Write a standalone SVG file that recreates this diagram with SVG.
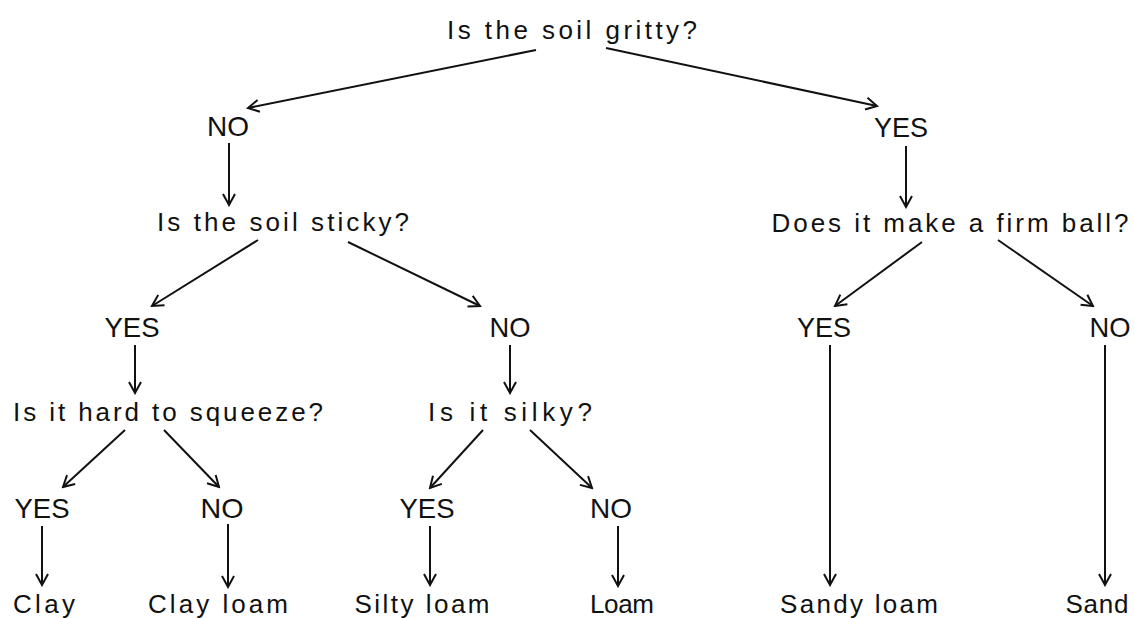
<svg xmlns="http://www.w3.org/2000/svg" width="1134" height="618" viewBox="0 0 1134 618">
<style>
.q{font-family:"Liberation Sans","DejaVu Sans",sans-serif;font-size:26px;fill:#111;text-anchor:middle}
.a{font-family:"Liberation Sans","DejaVu Sans",sans-serif;font-size:28px;fill:#111;text-anchor:middle}
.l{font-family:"Liberation Sans","DejaVu Sans",sans-serif;font-size:26px;fill:#111;text-anchor:middle}
.c line{stroke:#111;stroke-width:2;marker-end:url(#ah)}
</style>
<defs>
<marker id="ah" markerUnits="userSpaceOnUse" viewBox="-12 -8 14 16" refX="0" refY="0" markerWidth="14" markerHeight="16" orient="auto">
<path d="M-11,-6 L0,0 L-11,6" fill="none" stroke="#111" stroke-width="2"/>
</marker>
</defs>
<rect width="1134" height="618" fill="#fff"/>
<g id="connectors" class="c">
<line x1="536" y1="50" x2="248" y2="108"/>
<line x1="606" y1="48" x2="877" y2="106"/>
<line x1="229" y1="143" x2="229" y2="205"/>
<line x1="906" y1="146" x2="906" y2="207"/>
<line x1="258" y1="240" x2="152" y2="306"/>
<line x1="348" y1="242" x2="480" y2="306"/>
<line x1="922" y1="242" x2="835" y2="306"/>
<line x1="998" y1="240" x2="1093" y2="306"/>
<line x1="135" y1="345" x2="135" y2="393"/>
<line x1="510" y1="345" x2="510" y2="393"/>
<line x1="830" y1="345" x2="830" y2="585"/>
<line x1="1105" y1="345" x2="1105" y2="585"/>
<line x1="125" y1="430" x2="63" y2="487"/>
<line x1="164" y1="430" x2="219" y2="487"/>
<line x1="483" y1="430" x2="430" y2="488"/>
<line x1="530" y1="430" x2="592" y2="488"/>
<line x1="42" y1="526" x2="42" y2="585"/>
<line x1="228" y1="524" x2="228" y2="587"/>
<line x1="430" y1="526" x2="430" y2="585"/>
<line x1="618" y1="526" x2="618" y2="586"/>
</g>
<g id="q-gritty"><text class="q" x="572" y="39" textLength="250" lengthAdjust="spacing">Is the soil gritty?</text></g>
<g id="a-no1"><text class="a" x="228" y="136" textLength="42" lengthAdjust="spacingAndGlyphs">NO</text></g>
<g id="a-yes1"><text class="a" x="901" y="137" textLength="54" lengthAdjust="spacingAndGlyphs">YES</text></g>
<g id="q-sticky"><text class="q" x="283" y="231" textLength="252" lengthAdjust="spacing">Is the soil sticky?</text></g>
<g id="q-ball"><text class="q" x="950" y="232" textLength="357" lengthAdjust="spacing">Does it make a firm ball?</text></g>
<g id="a-yes2"><text class="a" x="132" y="337" textLength="55" lengthAdjust="spacingAndGlyphs">YES</text></g>
<g id="a-no2"><text class="a" x="510" y="337" textLength="41" lengthAdjust="spacingAndGlyphs">NO</text></g>
<g id="a-yes3"><text class="a" x="824" y="337" textLength="54" lengthAdjust="spacingAndGlyphs">YES</text></g>
<g id="a-no3"><text class="a" x="1110" y="337" textLength="41" lengthAdjust="spacingAndGlyphs">NO</text></g>
<g id="q-squeeze"><text class="q" x="168" y="421" textLength="310" lengthAdjust="spacing">Is it hard to squeeze?</text></g>
<g id="q-silky"><text class="q" x="510" y="421" textLength="164" lengthAdjust="spacing">Is it silky?</text></g>
<g id="a-yes4"><text class="a" x="42" y="518" textLength="55" lengthAdjust="spacingAndGlyphs">YES</text></g>
<g id="a-no4"><text class="a" x="222" y="518" textLength="43" lengthAdjust="spacingAndGlyphs">NO</text></g>
<g id="a-yes5"><text class="a" x="427" y="518" textLength="55" lengthAdjust="spacingAndGlyphs">YES</text></g>
<g id="a-no5"><text class="a" x="611" y="518" textLength="42" lengthAdjust="spacingAndGlyphs">NO</text></g>
<g id="leaf-clay"><text class="l" x="44" y="613" textLength="62" lengthAdjust="spacing">Clay</text></g>
<g id="leaf-clayloam"><text class="l" x="218" y="613" textLength="140" lengthAdjust="spacing">Clay loam</text></g>
<g id="leaf-siltyloam"><text class="l" x="422" y="613" textLength="135" lengthAdjust="spacing">Silty loam</text></g>
<g id="leaf-loam"><text class="l" x="622" y="613" textLength="64" lengthAdjust="spacing">Loam</text></g>
<g id="leaf-sandyloam"><text class="l" x="859" y="613" textLength="158" lengthAdjust="spacing">Sandy loam</text></g>
<g id="leaf-sand"><text class="l" x="1097" y="613" textLength="63" lengthAdjust="spacing">Sand</text></g>
</svg>
